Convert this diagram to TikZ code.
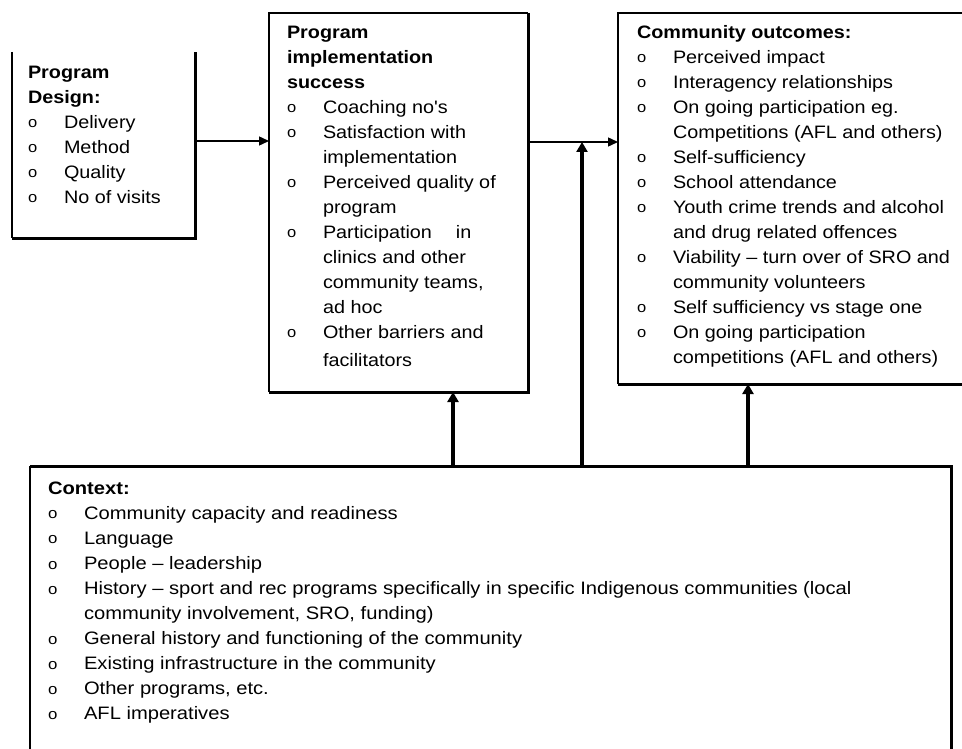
\documentclass[tikz,border=0pt]{standalone}
\usepackage{fontspec}
\setmainfont{Liberation Sans}
\newfontfamily\mainf[FakeStretch=1.1]{Liberation Sans}
\newfontfamily\ctxf[FakeStretch=1.12]{Liberation Sans}
\usetikzlibrary{arrows.meta}
\newcommand{\bul}{\makebox[36pt][l]{\raisebox{0.3pt}{\fontsize{15}{25}\selectfont o}}}
\newcommand{\cnt}{\hspace*{36pt}}
\begin{document}
\begin{tikzpicture}[x=1pt,y=-1pt,
  region/.style={inner sep=0pt,outer sep=0pt,anchor=north west},
  thinln/.style={line width=1.4pt},
  thickln/.style={line width=3pt},
  arr/.style={line width=1.4pt,-{Triangle[length=10pt,width=9pt]}},
  bigarr/.style={line width=4pt,-{Triangle[length=10pt,width=11pt]}},
  txt/.style={inner sep=0pt,outer sep=0pt,anchor=base west,
    font=\mainf\fontsize{18}{25}\selectfont}]
\fill[white] (0,0) rectangle (962,749);
\useasboundingbox (0,0) rectangle (962,749);

% box regions
\node[region,minimum width=183pt,minimum height=186pt] (pd) at (12,52) {};
\node[region,minimum width=259pt,minimum height=379pt] (pi) at (269,13) {};
\node[region,minimum width=344pt,minimum height=371pt] (co) at (618,13) {};
\node[region,minimum width=921pt,minimum height=283pt] (ctx) at (30,466) {};

% borders
\draw[thinln] (pd.north west) -- (pd.south west);
\draw[thickln] (pd.south west) -- (pd.south east) -- (pd.north east);
\draw[thinln] (pi.south west) -- (pi.north west) -- (pi.north east);
\draw[thickln] (pi.north east) -- (pi.south east) -- (pi.south west);
\draw[thinln] (co.north east) -- (co.north west) -- (co.south west);
\draw[thickln] (co.south west) -- (co.south east);
\draw[thinln] (ctx.south west) -- (ctx.north west);
\draw[thickln] (ctx.north west) -- (ctx.north east) -- (ctx.south east);

% texts
\node[txt] (pdt) at (28,78.3) {\begin{tabular}[t]{@{}l@{}}
\textbf{Program}\\
\textbf{Design:}\\
\bul Delivery\\
\bul Method\\
\bul Quality\\
\bul No of visits
\end{tabular}};

\node[txt] (pit) at (287,38.3) {\begin{tabular}[t]{@{}l@{}}
\textbf{Program}\\
\textbf{implementation}\\
\textbf{success}\\
\bul Coaching no's\\
\bul Satisfaction with\\
\cnt implementation\\
\bul Perceived quality of\\
\cnt program\\
\bul Participation\hspace{24pt}in\\
\cnt clinics and other\\
\cnt community teams,\\
\cnt ad hoc\\
\bul Other barriers and\\[3pt]
\cnt facilitators
\end{tabular}};

\node[txt] (cot) at (637,38.3) {\begin{tabular}[t]{@{}l@{}}
\textbf{Community outcomes:}\\
\bul Perceived impact\\
\bul Interagency relationships\\
\bul On going participation eg.\\
\cnt Competitions (AFL and others)\\
\bul Self-sufficiency\\
\bul School attendance\\
\bul Youth crime trends and alcohol\\
\cnt and drug related offences\\
\bul Viability – turn over of SRO and\\
\cnt community volunteers\\
\bul Self sufficiency vs stage one\\
\bul On going participation\\
\cnt competitions (AFL and others)
\end{tabular}};

\node[txt,font=\ctxf\fontsize{18}{25.1}\selectfont] (ctxt) at (48,494) {\begin{tabular}[t]{@{}l@{}}
\textbf{Context:}\\
\bul Community capacity and readiness\\
\bul Language\\
\bul People – leadership\\
\bul History – sport and rec programs specifically in specific Indigenous communities (local\\
\cnt community involvement, SRO, funding)\\
\bul General history and functioning of the community\\
\bul Existing infrastructure in the community\\
\bul Other programs, etc.\\
\bul AFL imperatives
\end{tabular}};

% connectors
\coordinate (a1) at (0,141);
\coordinate (a2) at (0,142);
\coordinate (j) at (582,142);
\coordinate (v1) at (453,0);
\coordinate (v3) at (748,0);
\draw[arr] (pd.east |- a1) -- (pi.west |- a1);
\draw[arr] (pi.east |- a2) -- (co.west |- a2);
\draw[bigarr] (ctx.north -| j) -- (j);
\draw[bigarr] (ctx.north -| v1) -- (pi.south -| v1);
\draw[bigarr] (ctx.north -| v3) -- (co.south -| v3);
\end{tikzpicture}
\end{document}
